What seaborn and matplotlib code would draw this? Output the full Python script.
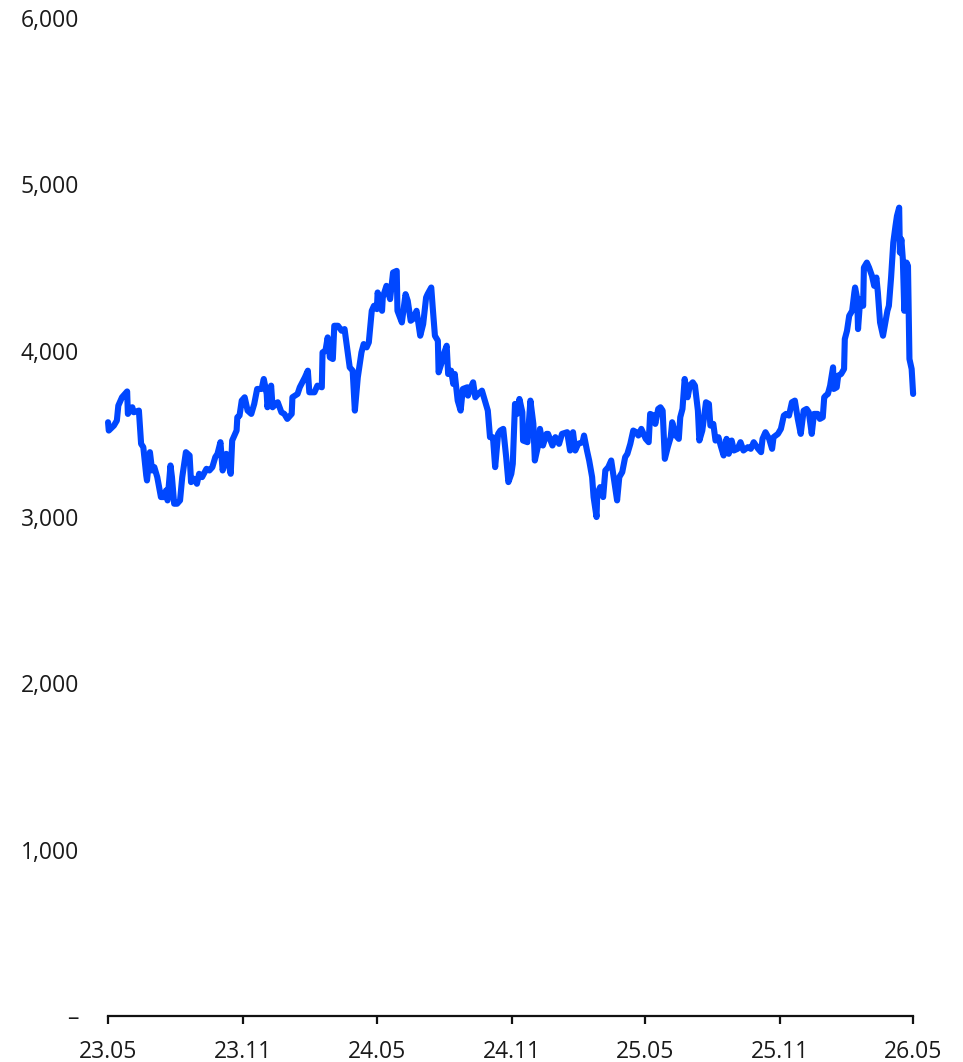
import pandas as pd
import matplotlib.pyplot as plt
import matplotlib.dates as mdates
from matplotlib.ticker import FuncFormatter
import seaborn as sns

# Data: days since 2023-05-01 and index level
day_offsets = [
    0, 1, 8, 12, 14, 19, 26, 27, 33, 35, 42, 45, 48, 52, 53, 57, 60, 63, 67, 72,
    76, 79, 81, 85, 87, 90, 94, 98, 101, 106, 111, 113, 117, 121, 124, 128, 134, 138, 142, 146,
    149, 153, 156, 161, 167, 169, 175, 176, 179, 182, 186, 190, 195, 199, 203, 209, 212, 216, 217, 222,
    224, 231, 236, 240, 244, 250, 251, 258, 261, 268, 272, 274, 281, 285, 291, 292, 296, 299, 302, 306,
    308, 313, 318, 322, 329, 333, 336, 340, 345, 348, 352, 355, 359, 362, 366, 367, 373, 374, 379, 384,
    388, 393, 394, 400, 405, 408, 412, 415, 420, 425, 429, 433, 435, 440, 442, 445, 449, 450, 455, 457,
    461, 463, 467, 470, 472, 476, 480, 483, 489, 490, 494, 497, 500, 504, 509, 513, 517, 520, 524, 527,
    531, 534, 538, 542, 545, 549, 551, 554, 557, 560, 564, 565, 571, 575, 579, 581, 586, 588, 592, 597,
    599, 605, 609, 614, 618, 625, 629, 633, 636, 640, 646, 648, 652, 655, 659, 661, 665, 666, 670, 674,
    677, 681, 685, 689, 693, 696, 700, 704, 707, 711, 715, 719, 722, 726, 732, 736, 738, 743, 745, 749,
    752, 755, 758, 762, 766, 768, 773, 777, 779, 782, 785, 789, 792, 796, 799, 803, 805, 809, 814, 818,
    820, 824, 827, 831, 834, 838, 842, 845, 849, 852, 857, 861, 865, 871, 875, 879, 885, 889, 891, 895,
    900, 904, 906, 912, 916, 920, 923, 927, 931, 935, 939, 943, 947, 951, 954, 958, 961, 966, 969, 973,
    975, 977, 980, 983, 987, 988, 992, 994, 998, 1002, 1003, 1006, 1009, 1013, 1016, 1017, 1020, 1021, 1024, 1028,
    1029, 1033, 1036, 1040, 1043, 1046, 1048, 1051, 1055, 1057, 1061, 1063, 1066, 1069, 1072, 1074, 1077, 1078, 1080, 1082,
    1084, 1087, 1089, 1091, 1094, 1096,
]
levels = [
    3570, 3520, 3550, 3580, 3670, 3720, 3755, 3620, 3660, 3630, 3640, 3440, 3420, 3250, 3220, 3390, 3280, 3300, 3240, 3120,
    3120, 3160, 3100, 3310, 3240, 3080, 3080, 3100, 3240, 3390, 3370, 3210, 3230, 3200, 3260, 3240, 3290, 3280, 3300, 3360,
    3380, 3450, 3280, 3380, 3260, 3460, 3520, 3600, 3610, 3700, 3720, 3640, 3620, 3680, 3770, 3770, 3830, 3740, 3660, 3790,
    3660, 3690, 3630, 3620, 3590, 3620, 3720, 3740, 3780, 3840, 3880, 3750, 3750, 3790, 3780, 3990, 4000, 4080, 3960, 3950,
    4150, 4150, 4120, 4130, 3900, 3880, 3640, 3840, 3990, 4040, 4020, 4050, 4240, 4270, 4250, 4350, 4240, 4320, 4390, 4310,
    4470, 4480, 4240, 4170, 4340, 4300, 4180, 4190, 4240, 4090, 4160, 4320, 4340, 4380, 4260, 4090, 4060, 3870, 3940, 3980,
    4030, 3860, 3880, 3800, 3860, 3700, 3640, 3770, 3780, 3730, 3780, 3810, 3720, 3740, 3760, 3700, 3640, 3480, 3480, 3300,
    3500, 3520, 3530, 3360, 3210, 3260, 3320, 3680, 3620, 3710, 3630, 3460, 3450, 3700, 3560, 3340, 3440, 3530, 3430, 3500,
    3500, 3430, 3480, 3440, 3500, 3510, 3400, 3510, 3400, 3440, 3450, 3490, 3400, 3340, 3240, 3120, 3000, 3140, 3180, 3120,
    3280, 3300, 3340, 3220, 3100, 3240, 3270, 3360, 3380, 3440, 3520, 3510, 3490, 3530, 3470, 3450, 3620, 3610, 3560, 3650,
    3660, 3640, 3350, 3420, 3480, 3570, 3490, 3470, 3600, 3650, 3830, 3720, 3790, 3810, 3790, 3640, 3460, 3520, 3690, 3680,
    3550, 3560, 3460, 3480, 3430, 3370, 3470, 3380, 3460, 3400, 3410, 3450, 3400, 3420, 3410, 3450, 3410, 3390, 3470, 3510,
    3470, 3410, 3480, 3500, 3530, 3610, 3620, 3610, 3690, 3700, 3590, 3500, 3640, 3650, 3630, 3500, 3620, 3620, 3590, 3600,
    3720, 3730, 3740, 3790, 3900, 3770, 3780, 3850, 3860, 3890, 4070, 4120, 4210, 4240, 4350, 4380, 4310, 4130, 4310, 4270,
    4500, 4530, 4500, 4450, 4390, 4440, 4350, 4170, 4090, 4140, 4240, 4270, 4440, 4650, 4750, 4810, 4860, 4590, 4670, 4550,
    4240, 4530, 4510, 3950, 3890, 3740,
]
tick_dates = ["2023-05-01", "2023-11-01", "2024-05-01", "2024-11-01",
              "2025-05-01", "2025-11-01", "2026-05-01"]
y_ticks = [0, 1000, 2000, 3000, 4000, 5000, 6000]

start = pd.Timestamp("2023-05-01")
df = pd.DataFrame({
    "date": start + pd.to_timedelta(day_offsets, unit="D"),
    "level": levels,
})

sns.set_style("white")
plt.rcParams["font.family"] = ["Open Sans", "DejaVu Sans"]

fig = plt.figure(figsize=(9.63, 10.62), dpi=100)
ax = fig.add_axes([0.1122, 0.0433, 0.8360, 0.9397])

sns.lineplot(data=df, x="date", y="level", ax=ax, color="#0047ff",
             linewidth=4.4, solid_joinstyle="round", solid_capstyle="round",
             clip_on=False)

ax.set_xlim(pd.Timestamp(tick_dates[0]), pd.Timestamp(tick_dates[-1]))
ax.set_ylim(0, 6000)
ax.set_xticks(pd.to_datetime(tick_dates))
ax.xaxis.set_major_formatter(mdates.DateFormatter("%y.%m"))
ax.set_yticks(y_ticks)
ax.yaxis.set_major_formatter(
    FuncFormatter(lambda v, p: "–" if v == 0 else f"{int(v):,}"))

for side in ["top", "right", "left"]:
    ax.spines[side].set_visible(False)
ax.spines["bottom"].set_linewidth(1.6)
ax.spines["bottom"].set_color("#111111")

ax.tick_params(axis="x", length=6, width=1.6, color="#111111",
               labelsize=16.5, pad=11, labelcolor="#1a1a1a", bottom=True)
ax.tick_params(axis="y", length=0, labelsize=16.5, pad=21,
               labelcolor="#1a1a1a")
ax.set_xlabel("")
ax.set_ylabel("")
ax.grid(False)

fig.savefig("out.png", dpi=100)
